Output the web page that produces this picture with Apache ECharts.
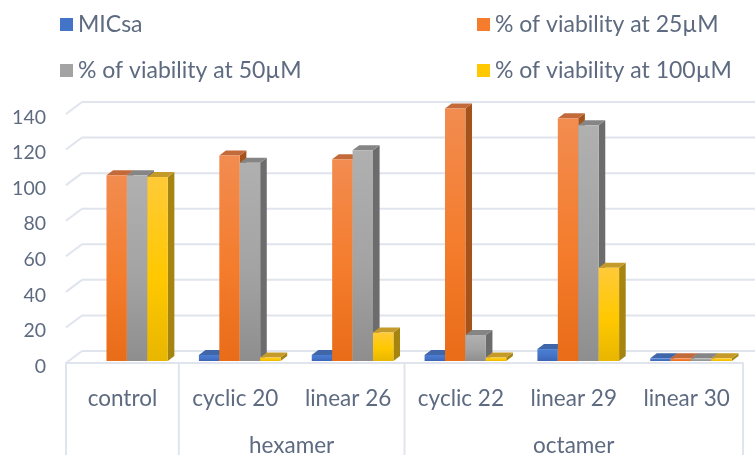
<!DOCTYPE html>
<html><head><meta charset="utf-8">
<style>html,body{margin:0;padding:0;background:#fff;overflow:hidden}#c{width:755px;height:455px;filter:blur(0.55px)}</style>
<script src="https://cdn.jsdelivr.net/npm/echarts@6/dist/echarts.min.js"></script>
</head><body><div id="c"></div>
<script>
const categories = ['control','cyclic 20','linear 26','cyclic 22','linear 29','linear 30'];
const yTicks = [0,20,40,60,80,100,120,140];
const MICsa = [null,3.4,3.4,3.4,6.7,1.5];
const via25 = [104.5,115.5,113.5,142,136.5,1.5];
const via50 = [104.5,111.5,118.5,14.6,132.5,1.5];
const via100 = [103.5,2,16,2,52.4,1.5];
const groupNames = ['hexamer','octamer'];
const groupSpans = [[1,3],[3,6]];
const separators = [0,1,3,6];

const TXT='#5d6a80', LINE='#e0e4ec', FONT='Lato';
const WALL={dx:16,dy:-12}, DEPTH={dx:6.6,dy:-5}, SHIFT={dx:4.5,dy:-2};
const seriesDefs=[
 {name:'MICsa',vals:MICsa,pal:['#4a7dd2','#4474c8','#3b64b4','#3f66a8','#2f4f8c']},
 {name:'% of viability at 25µM',vals:via25,pal:['#f28c50','#f47c2c','#e96c18','#c26a3a','#a5531a']},
 {name:'% of viability at 50µM',vals:via50,pal:['#b0b0b0','#a3a3a3','#8e8e8e','#858585','#6c6c6c']},
 {name:'% of viability at 100µM',vals:via100,pal:['#ffca38','#ffc800','#e8b600','#c49a2a','#a5840f']}
];
function grad(p){return new echarts.graphic.LinearGradient(0,0,0,1,[{offset:0,color:p[0]},{offset:0.55,color:p[1]},{offset:1,color:p[2]}]);}
function barItem(idx,pal){
 return function(p,api){
  const v=api.value(1), j=api.value(0);
  if(v==null||isNaN(v)) return null;
  const band=api.size([1,0])[0], w=band*0.181;
  const top=api.coord([j,v]), base=api.coord([j,0]);
  const x=top[0]+(idx-2)*w+SHIFT.dx, yT=top[1]+SHIFT.dy, yB=base[1]+SHIFT.dy;
  const d=DEPTH;
  return {type:'group',children:[
   {type:'polygon',shape:{points:[[x+w,yB],[x+w+d.dx,yB+d.dy],[x+w+d.dx,yT+d.dy],[x+w,yT]]},style:{fill:pal[4]}},
   {type:'polygon',shape:{points:[[x,yT],[x+d.dx,yT+d.dy],[x+w+d.dx,yT+d.dy],[x+w,yT]]},style:{fill:pal[3]}},
   {type:'rect',shape:{x:x,y:yT,width:w,height:yB-yT},style:{fill:grad(pal)}}
  ]};
 };
}
const ln=(a,b)=>({type:'line',shape:{x1:a[0],y1:a[1],x2:b[0],y2:b[1]},style:{stroke:LINE,lineWidth:2}});
const series=[
 {type:'custom',silent:true,z:1,data:yTicks.map(t=>[0,t]),encode:{x:0,y:1},
  renderItem(p,api){
   const band=api.size([1,0])[0];
   const f=api.coord([0,api.value(1)]); const x0=f[0]-band/2, y=f[1];
   const xR=api.coord([categories.length-1,0])[0]+band/2;
   const b=[x0+WALL.dx,y+WALL.dy];
   return {type:'group',children:[ln([x0,y],b),ln(b,[xR+WALL.dx,y+WALL.dy])]};
  }},
 {type:'custom',silent:true,z:1,data:separators.map(s=>[0,0,s]),encode:{x:0,y:1},
  renderItem(p,api){
   const band=api.size([1,0])[0];
   const f=api.coord([0,0]); const x=f[0]-band/2+api.value(2)*band;
   return ln([x,f[1]],[x,f[1]+95]);
  }},
 {type:'custom',silent:true,z:1,data:groupNames.map((n,i)=>[0,0,(groupSpans[i][0]+groupSpans[i][1])/2]),encode:{x:0,y:1},
  renderItem(p,api){
   const band=api.size([1,0])[0];
   const f=api.coord([0,0]); const x=f[0]-band/2+api.value(2)*band;
   return {type:'text',style:{x:x,y:f[1]+83,text:groupNames[p.dataIndex],fill:TXT,font:'22.5px '+FONT,textAlign:'center',textVerticalAlign:'middle'}};
  }}
].concat(seriesDefs.map((s,i)=>({
 type:'custom',name:s.name,z:2+i,itemStyle:{color:s.pal[1]},
 data:s.vals.map((v,j)=>[j,v]),encode:{x:0,y:1},renderItem:barItem(i,s.pal)
})));
const leg=(name,left,top)=>({data:[name],left,top,padding:0,itemWidth:13,itemHeight:13,itemGap:6,icon:'rect',
 textStyle:{color:TXT,fontFamily:FONT,fontSize:23},selectedMode:false});
const chart=echarts.init(document.getElementById('c'));
chart.setOption({
 animation:false,backgroundColor:'#fff',
 legend:[leg(seriesDefs[0].name,60,13),leg(seriesDefs[1].name,477,13),leg(seriesDefs[2].name,60,59),leg(seriesDefs[3].name,477,59)],
 grid:{left:66,right:12,top:114,bottom:92},
 xAxis:{type:'category',data:categories,boundaryGap:true,
  axisLine:{show:true,lineStyle:{color:LINE,width:2}},axisTick:{show:false},
  axisLabel:{color:TXT,fontFamily:FONT,fontSize:22.5,margin:24,interval:0}},
 yAxis:{type:'value',min:0,max:140,interval:20,
  axisLine:{show:false},axisTick:{show:false},splitLine:{show:false},
  axisLabel:{color:TXT,fontFamily:FONT,fontSize:19.5,margin:20,verticalAlign:'top',lineHeight:7}},
 series
});
</script></body></html>
